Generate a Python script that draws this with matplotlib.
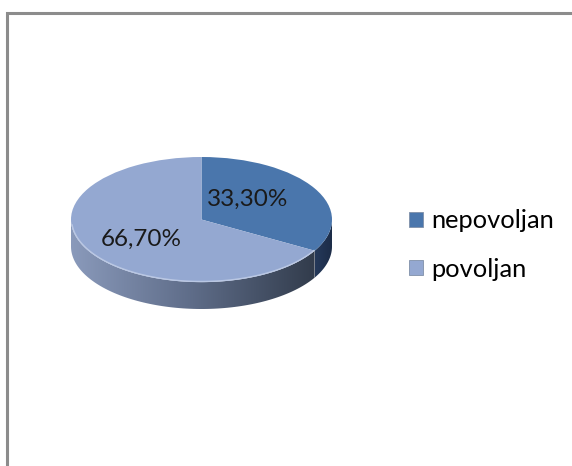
import numpy as np
import matplotlib.pyplot as plt
from matplotlib.patches import Polygon, Patch
from matplotlib.colors import LinearSegmentedColormap

labels = ["nepovoljan", "povoljan"]
values = [33.3, 66.7]
pct_text = ["33,30%", "66,70%"]

top_colors = ["#4A76AC", "#94A8D1"]
side_colors = [["#25395A", "#1C2C47"], ["#8A9ABB", "#5E6C88", "#323C4C"]]

plt.rcParams['font.family'] = ['Lato', 'DejaVu Sans']

fig = plt.figure(figsize=(5.72, 4.66), dpi=100)

# outer frame (only top and left edge visible)
bg = fig.add_axes([0, 0, 1, 1])
bg.set_xlim(0, 572)
bg.set_ylim(466, 0)
bg.axis('off')
bg.plot([7, 7, 572], [466, 13, 13], color='#8c8c8c', lw=2.2, solid_joinstyle='miter')

depth = 0.43
ax = fig.add_axes([71/572, (466-309)/466, 261/572, 152/466])
wedges, _ = ax.pie(values, colors=top_colors, startangle=90, counterclock=False,
                   radius=1, wedgeprops=dict(linewidth=0, zorder=3))
ax.set_aspect('auto')
ax.axis('off')

# side band of the 3d disc
total = sum(values)
bound = 90 - 360 * values[0] / total
spans = [(bound % 360, 360), (180, bound % 360)]
for (a0, a1), cols in zip(spans, side_colors):
    t = np.radians(np.linspace(a0, a1, 100))
    xs = np.cos(t)
    ys = np.sin(t)
    pts = np.vstack([np.column_stack([xs, ys]), np.column_stack([xs[::-1], ys[::-1] - depth])])
    poly = Polygon(pts, closed=True, facecolor='none', edgecolor='none')
    ax.add_patch(poly)
    cmap = LinearSegmentedColormap.from_list('side', cols)
    x0, x1 = xs.min(), xs.max()
    grad = np.linspace(0, 1, 256).reshape(1, -1)
    im = ax.imshow(grad, cmap=cmap, aspect='auto', extent=[x0, x1, -1 - depth, 0.05],
                   zorder=1, interpolation='bilinear')
    im.set_clip_path(poly)

# light rim along the front edge of the top face
t = np.radians(np.linspace(185, 330, 100))
ax.plot(np.cos(t) * 0.995, np.sin(t) * 0.99, color='#c3cfe8', lw=1.0, alpha=0.8, zorder=4)

ax.set_xlim(-1, 1)
ax.set_ylim(-1 - depth, 1)

# percentage labels
ax.text(0.35, 0.33, pct_text[0], ha='center', va='center', fontsize=17.5, color='#1a1a1a', zorder=5)
ax.text(-0.46, -0.31, pct_text[1], ha='center', va='center', fontsize=17.5, color='#1a1a1a', zorder=5)

handles = [Patch(facecolor=c, edgecolor='#7f8fa8', linewidth=0.6) for c in top_colors]
fig.legend(handles, labels, loc='center left', bbox_to_anchor=(399/572, 1 - 245/466),
           frameon=False, fontsize=18.3, handlelength=0.55, handleheight=0.55,
           handletextpad=0.3, labelspacing=1.0, borderaxespad=0)

fig.savefig('out.png', dpi=100)
